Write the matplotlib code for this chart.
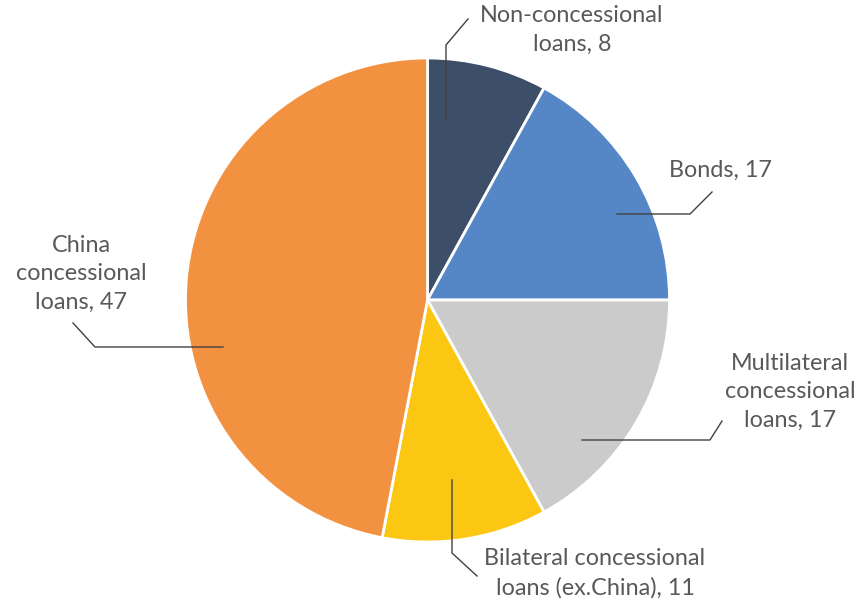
import matplotlib
matplotlib.use("Agg")
import matplotlib.pyplot as plt

labels = ["Non-concessional\nloans, 8", "Bonds, 17", "Multilateral\nconcessional\nloans, 17",
          "Bilateral concessional\nloans (ex.China), 11", "China\nconcessional\nloans, 47"]
values = [8, 17, 17, 11, 47]
colors = ["#3D4E69", "#5586C6", "#CCCBCC", "#FCC712", "#F29241"]

W, H = 855, 602
TEXT = "#595959"
LINE = "#404040"

# label centres and leader polylines, in pixel coordinates (y down)
label_pos = [(572, 30), (720, 170), (790, 392), (595, 573), (81, 274)]
leaders = [
    [(446, 120), (446, 45), (468, 19)],
    [(617, 214), (690, 214), (712, 192)],
    [(582, 440), (710, 440), (722, 421)],
    [(452, 480), (452, 553), (477, 576)],
    [(223, 347), (95, 347), (73, 323)],
]

plt.rcParams["font.family"] = ["Lato", "DejaVu Sans"]
fig = plt.figure(figsize=(W / 100, H / 100), dpi=100)
ax = fig.add_axes([0, 0, 1, 1])

ax.pie(values, colors=colors, startangle=90, counterclock=False,
       center=(427.5, H - 300), radius=242,
       wedgeprops=dict(edgecolor="white", linewidth=2), frame=True)
ax.set_xlim(0, W)
ax.set_ylim(0, H)
ax.set_aspect("equal")
ax.axis("off")

for pts in leaders:
    xs = [p[0] for p in pts]
    ys = [H - p[1] for p in pts]
    ax.plot(xs, ys, color=LINE, lw=1)

for lab, (x, y) in zip(labels, label_pos):
    ax.text(x, H - y, lab, ha="center", va="center", fontsize=16.8,
            color=TEXT, linespacing=1.45)

fig.savefig("out.png", dpi=100)
